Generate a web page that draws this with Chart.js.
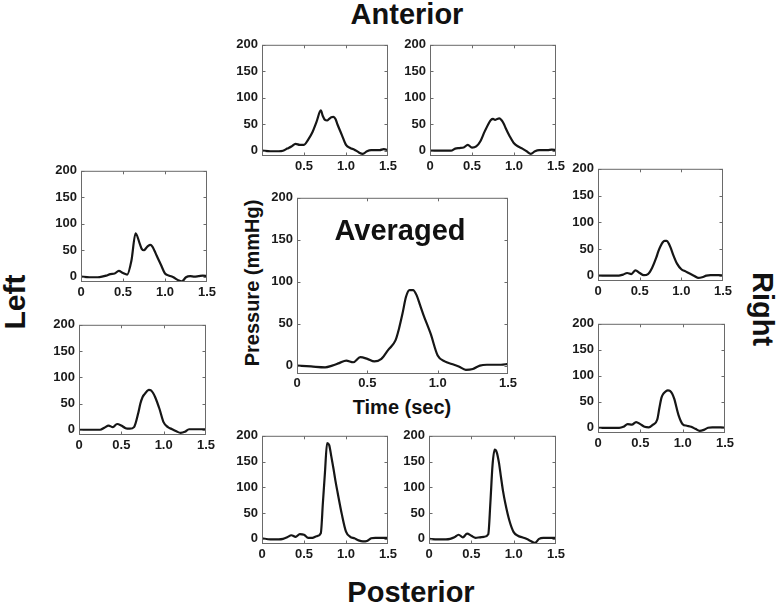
<!DOCTYPE html>
<html>
<head>
<meta charset="utf-8">
<script src="https://cdn.jsdelivr.net/npm/chart.js@4.4.1/dist/chart.umd.min.js"></script>
<style>
  body { margin: 0; background: #fff; width: 780px; height: 609px; position: relative; overflow: hidden;
         font-family: "Liberation Sans", Arial, sans-serif; }
  .panel { position: absolute; }
  .lbl { position: absolute; font-weight: bold; color: #111; white-space: nowrap; line-height: 1; }
</style>
</head>
<body>

<div class="lbl" style="left:407px;top:14px;font-size:29px;transform:translate(-50%,-50%)">Anterior</div>
<div class="lbl" style="left:411px;top:592px;font-size:29px;transform:translate(-50%,-50%)">Posterior</div>
<div class="lbl" style="left:15px;top:302px;font-size:30px;transform:translate(-50%,-50%) rotate(-90deg)">Left</div>
<div class="lbl" style="left:762px;top:309px;font-size:29px;transform:translate(-50%,-50%) rotate(90deg)">Right</div>
<div class="lbl" style="left:252px;top:283px;font-size:20px;transform:translate(-50%,-50%) rotate(-90deg)">Pressure (mmHg)</div>
<div class="lbl" style="left:402px;top:407px;font-size:20px;transform:translate(-50%,-50%)">Time (sec)</div>

<script>
// time (sec) at which each curve was read
const times = [0, 0.1, 0.2, 0.25, 0.3, 0.35, 0.4, 0.45, 0.5, 0.55, 0.6, 0.65, 0.7, 0.725, 0.75, 0.775,
               0.8, 0.825, 0.85, 0.875, 0.9, 0.95, 1.0, 1.05, 1.1, 1.15, 1.2, 1.25, 1.3, 1.35, 1.4, 1.45, 1.5];

// pressure (mmHg) per sensor
const anterior1 = [0, -1, -1, 0, 4, 8, 13, 11, 11, 21, 35, 55, 76, 65, 58, 57, 60, 63, 64, 60, 49, 30, 11, 5, 2, -3, -6, -1, 1, 1, 1, 3, 1];
const anterior2 = [0, 0, 0, 0, 4, 5, 6, 11, 6, 8, 18, 36, 52, 58, 60, 58, 60, 61, 58, 52, 43, 27, 14, 8, 4, -1, -6, -1, 1, 1, 1, 2, 1];
const left1     = [0, -1, -1, 0, 2, 5, 6, 11, 7, 4, 30, 82, 62, 52, 50, 54, 58, 60, 57, 49, 40, 23, 6, 2, -1, -6, -9, -1, 1, 0, 1, 2, 1];
const left2     = [0, 0, 0, 0, 4, 8, 5, 11, 8, 3, 2, 5, 32, 50, 62, 68, 73, 76, 75, 70, 62, 40, 14, 5, 1, -3, -6, -4, 1, 1, 1, 1, 1];
const averaged  = [0, -1, -2, 0, 3, 6, 4, 10, 8, 5, 8, 19, 30, 44, 62, 82, 90, 90, 84, 72, 60, 38, 12, 5, 2, -1, -5, -4, 0, 1, 1, 1, 2];
const right1    = [0, 0, 0, 0, 2, 5, 3, 10, 5, 1, 3, 15, 34, 46, 55, 62, 65, 65, 60, 51, 40, 22, 12, 8, 4, 0, -4, -3, 0, 1, 1, 1, 0];
const right2    = [0, 0, 0, 0, 2, 7, 6, 11, 7, 2, 1, 6, 16, 38, 58, 66, 70, 72, 71, 66, 56, 25, 7, 4, 2, -2, -6, -4, 0, 1, 1, 1, 0];
const posterior1 = [1, -1, -1, 0, 3, 7, 4, 9, 8, 2, 2, 5, 11, 70, 130, 186, 182, 160, 137, 112, 90, 48, 14, 4, 1, -3, -5, -4, 1, 2, 2, 2, 2];
const posterior2 = [0, -1, -1, 0, 3, 8, 3, 10, 6, 2, 3, 4, 9, 70, 142, 173, 168, 149, 120, 92, 70, 35, 13, 6, 3, 0, -4, -8, 0, 2, 2, 2, 2];

// axis ticks
const yTicks = [0, 50, 100, 150, 200];
const xTicks = [0, 0.5, 1.0, 1.5];
const xTickLabels = ['0', '0.5', '1.0', '1.5'];
const xTickLabelsNoZero = ['', '0.5', '1.0', '1.5'];

// plot area of each panel in the page (left, top, right, bottom)
const panels = [
  { vals: anterior1,  box: [262, 43, 388, 156], xl: xTickLabelsNoZero },
  { vals: anterior2,  box: [430, 43, 556, 156], xl: xTickLabels },
  { vals: left1,      box: [81, 169, 207, 282], xl: xTickLabels },
  { vals: left2,      box: [79, 323, 206, 435], xl: xTickLabels },
  { vals: averaged,   box: [297, 196, 508, 374], xl: xTickLabels, center: true },
  { vals: right1,     box: [598, 167, 723, 281], xl: xTickLabels },
  { vals: right2,     box: [598, 322, 725, 433], xl: xTickLabels },
  { vals: posterior1, box: [262, 434, 388, 544], xl: xTickLabels },
  { vals: posterior2, box: [429, 434, 556, 544], xl: xTickLabels }
];

const Y_W = 34, X_H = 20, PAD_T = 10, PAD_R = 14;

// matlab style box with inward ticks
const boxPlugin = {
  id: 'box',
  afterDatasetsDraw(chart) {
    const { ctx, chartArea: a, scales } = chart;
    const l = a.left + 0.5, t = a.top + 0.5, r = a.right - 0.5, b = a.bottom - 0.5;
    ctx.save();
    ctx.strokeStyle = '#6a6a6a';
    ctx.lineWidth = 1;
    ctx.strokeRect(l, t, r - l, b - t);
    ctx.beginPath();
    xTicks.slice(1, -1).forEach(v => {
      const px = Math.round(scales.x.getPixelForValue(v)) + 0.5;
      ctx.moveTo(px, b); ctx.lineTo(px, b - 3);
      ctx.moveTo(px, t); ctx.lineTo(px, t + 3);
    });
    yTicks.forEach(v => {
      const py = Math.round(scales.y.getPixelForValue(v)) + 0.5;
      ctx.moveTo(l, py); ctx.lineTo(l + 3, py);
      ctx.moveTo(r, py); ctx.lineTo(r - 3, py);
    });
    ctx.stroke();
    ctx.restore();
  }
};

const tickFont = { family: '"Liberation Sans", Arial, sans-serif', size: 13, weight: 'bold' };

panels.forEach(p => {
  const [L, T, R, B] = p.box;
  const w = (R - L) + Y_W + PAD_R;
  const h = (B - T) + PAD_T + X_H;
  const div = document.createElement('div');
  div.className = 'panel';
  div.style.left = (L - Y_W) + 'px';
  div.style.top = (T - PAD_T) + 'px';
  const cv = document.createElement('canvas');
  cv.width = w; cv.height = h;
  div.appendChild(cv);
  document.body.appendChild(div);

  new Chart(cv.getContext('2d'), {
    type: 'line',
    data: {
      datasets: [{
        data: times.map((t, i) => ({ x: t, y: p.vals[i] })),
        borderColor: '#161616',
        borderWidth: 2.2,
        pointRadius: 0,
        cubicInterpolationMode: 'monotone',
        fill: false
      }]
    },
    options: {
      responsive: false,
      animation: false,
      devicePixelRatio: 1,
      layout: { padding: { top: PAD_T, right: PAD_R, left: 0, bottom: 0 } },
      plugins: { legend: { display: false }, tooltip: { enabled: false } },
      scales: {
        x: {
          type: 'linear', min: 0, max: 1.5,
          grid: { display: false, drawTicks: false },
          border: { display: false },
          afterBuildTicks(s) { s.ticks = xTicks.map(v => ({ value: v })); },
          afterFit(s) { s.height = X_H; },
          ticks: {
            autoSkip: false, maxRotation: 0, padding: p.center ? 2 : 3,
            color: '#1a1a1a', font: tickFont,
            callback: (v, i) => p.xl[i]
          }
        },
        y: {
          min: -10, max: 200,
          grid: { display: false, drawTicks: false },
          border: { display: false },
          afterBuildTicks(s) { s.ticks = yTicks.map(v => ({ value: v })); },
          afterFit(s) { s.width = Y_W; },
          ticks: {
            autoSkip: false, padding: 4,
            color: '#1a1a1a', font: tickFont,
            callback: v => String(v)
          }
        }
      }
    },
    plugins: [boxPlugin]
  });
});
</script>

<div class="lbl" style="left:400px;top:230px;font-size:29px;transform:translate(-50%,-50%)">Averaged</div>

</body>
</html>
